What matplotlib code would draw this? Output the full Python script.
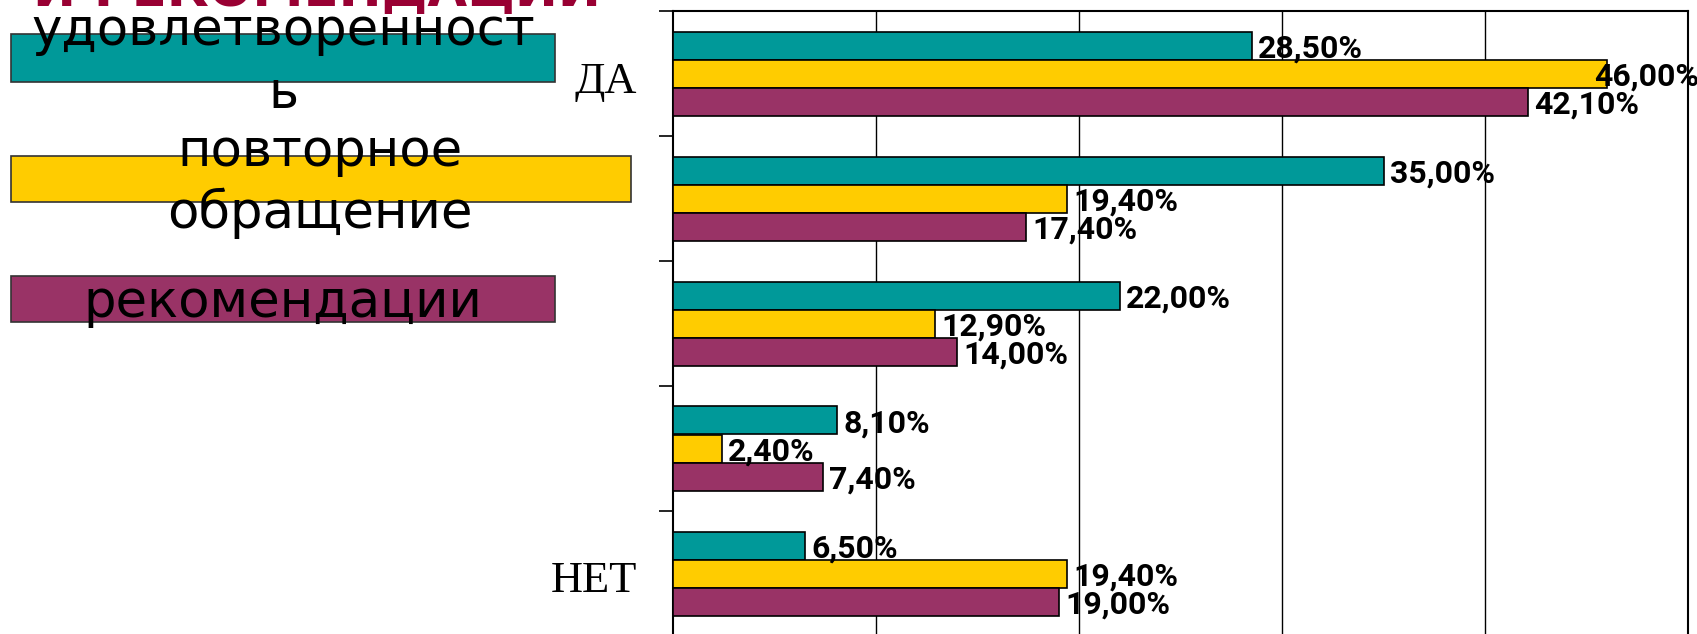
import matplotlib
matplotlib.use('Agg')
import matplotlib.pyplot as plt
import matplotlib.transforms as mtransforms
from matplotlib.patches import Rectangle
import numpy as np

############# data ####################
categories = ['ДА', '', '', '', 'НЕТ']
series_names = ['удовлетворенность', 'повторное обращение', 'рекомендации']
legend_text = ['удовлетворенност\nь', 'повторное\nобращение', 'рекомендации']
udovl = [28.5, 35.0, 22.0, 8.1, 6.5]
povtor = [46.0, 19.4, 12.9, 2.4, 19.4]
rekom = [42.1, 17.4, 14.0, 7.4, 19.0]
colors = ['#009999', '#FFCC00', '#993366']
title = 'И РЕКОМЕНДАЦИИ'

W, H = 1697, 634
fig = plt.figure(figsize=(W / 100, H / 100), dpi=100)

def fx(px):
    return px / W

def fy(py):
    return 1 - py / H

ax = fig.add_axes([fx(673), fy(636), fx(1688) - fx(673), fy(11) - fy(636)])

y = np.arange(len(categories))
h = 0.224
values = [udovl, povtor, rekom]
for k, vals in enumerate(values):
    pos = y + (k - 1) * h
    ax.barh(pos, vals, height=h, color=colors[k], edgecolor='black', linewidth=1.2, zorder=3)
    for p, v in zip(pos, vals):
        lab = ('%.2f%%' % v).replace('.', ',')
        dx = 4.5 if v < 45 else -9   # the longest one is pulled back to stay inside
        ax.annotate(lab, (v, p), xytext=(dx, -2), textcoords='offset points',
                    ha='left', va='center', fontsize=23, fontweight='bold',
                    family='Roboto', zorder=4)

ax.set_xlim(0, 50)
ax.set_ylim(len(categories) - 0.5, -0.5)
ax.set_xticks([10, 20, 30, 40])
ax.grid(axis='x', color='black', linewidth=1.0, zorder=0)
ax.tick_params(axis='x', length=0, labelbottom=False)

# boundaries as major ticks, names as minor ticks
ax.set_yticks(np.arange(-0.5, len(categories) + 0.5, 1.0))
ax.set_yticklabels([])
ax.tick_params(axis='y', which='major', direction='out', length=10, width=1.2)
ax.set_yticks(y, minor=True)
ax.set_yticklabels(categories, minor=True, fontsize=32, family='Liberation Serif')
ax.tick_params(axis='y', which='minor', length=0, pad=26)
shift = mtransforms.ScaledTranslation(0, -0.08, fig.dpi_scale_trans)
for lab in ax.get_yticklabels(minor=True):
    lab.set_va('center')
    lab.set_transform(lab.get_transform() + shift)

for s in ['left', 'top', 'right']:
    ax.spines[s].set_linewidth(1.5)
ax.spines['bottom'].set_visible(False)

# legend drawn as boxes with overlaid text, one baseline per line
boxes = [(11, 34, 555, 82), (11, 156, 631, 202), (11, 276, 555, 322)]
text_x = [283, 320, 283]
baselines = [[45, 108], [166, 228], [317]]
for (x0, y0, x1, y1), c, t, tx, bl in zip(boxes, colors, legend_text, text_x, baselines):
    fig.patches.append(Rectangle((fx(x0), fy(y1)), fx(x1) - fx(x0), fy(y0) - fy(y1),
                                 transform=fig.transFigure, facecolor=c,
                                 edgecolor='#333333', linewidth=1.2))
    for line, b in zip(t.split('\n'), bl):
        fig.text(fx(tx), fy(b), line, ha='center', va='baseline', fontsize=37,
                 family='DejaVu Sans')

fig.text(fx(33), fy(6), title, ha='left', va='baseline', fontsize=37,
         fontweight='bold', color='#990033')

fig.savefig('out.png', dpi=100)
